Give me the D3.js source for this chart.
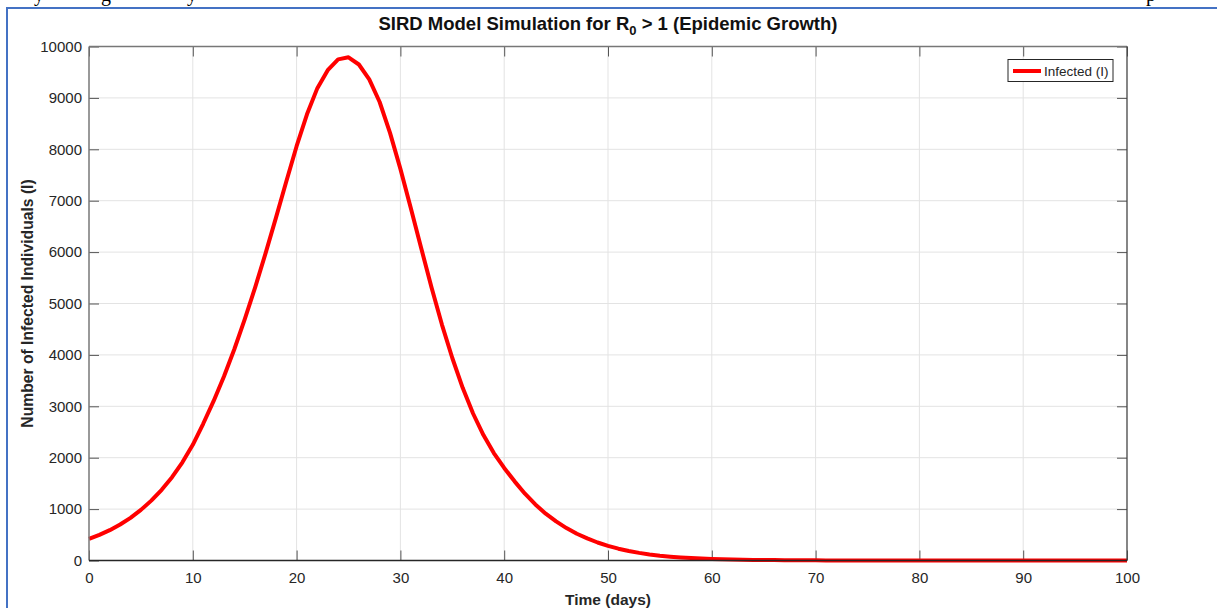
<!DOCTYPE html>
<html>
<head>
<meta charset="utf-8">
<script src="https://cdn.jsdelivr.net/npm/d3@7"></script>
<style>
  body { margin: 0; background: #fff; }
  svg { display: block; }
</style>
</head>
<body>
<svg width="1217" height="608"></svg>
<script>
// infected count per day
const days = d3.range(0, 101);
const infected = [
  420, 500, 590, 700, 830, 985, 1165, 1375, 1620, 1910,
  2250, 2660, 3100, 3580, 4110, 4690, 5310, 5970, 6660, 7370,
  8060, 8680, 9190, 9540, 9750, 9790, 9650, 9360, 8920, 8320,
  7620, 6860, 6080, 5310, 4590, 3940, 3360, 2860, 2440, 2090,
  1800, 1540, 1300, 1090, 910, 760, 630, 520, 430, 350,
  285, 230, 185, 148, 118, 94, 75, 60, 48, 38,
  30, 24, 19, 15, 12, 10, 8, 6, 5, 4,
  3, 2, 2, 2, 1, 1, 1, 1, 1, 0,
  0, 0, 0, 0, 0, 0, 0, 0, 0, 0,
  0, 0, 0, 0, 0, 0, 0, 0, 0, 0,
  0
];
const xTicks = [0, 10, 20, 30, 40, 50, 60, 70, 80, 90, 100];
const yTicks = [0, 1000, 2000, 3000, 4000, 5000, 6000, 7000, 8000, 9000, 10000];

const axisColor = "#262626";
const gridColor = "#e3e3e3";
const lineColor = "#ff0000";
const font = "'Liberation Sans', Arial, sans-serif";

const svg = d3.select("svg");
const plotLeft = 89, plotRight = 1127, plotTop = 46.5, plotBottom = 560.5;

const x = d3.scaleLinear().domain([0, 100]).range([plotLeft, plotRight]);
const y = d3.scaleLinear().domain([0, 10000]).range([plotBottom, plotTop]);

// page frame from the document screenshot
svg.append("line").attr("x1", 7).attr("x2", 1217).attr("y1", 8).attr("y2", 8)
    .attr("stroke", "#4472c4").attr("stroke-width", 2);
svg.append("line").attr("x1", 7).attr("x2", 7).attr("y1", 7).attr("y2", 608)
    .attr("stroke", "#4472c4").attr("stroke-width", 2);
// cut-off text line above the frame
const cut = svg.append("g").attr("font-family", "'Liberation Serif', serif")
    .attr("font-size", 20).attr("fill", "#000");
[[34, "y"], [101, "g"], [187, "y"], [1146, "p"]].forEach(d => {
    cut.append("text").attr("x", d[0]).attr("y", 1).text(d[1]);
});

// grid
svg.append("g").selectAll("line").data(xTicks.slice(1, -1)).join("line")
    .attr("x1", d => x(d)).attr("x2", d => x(d)).attr("y1", plotTop).attr("y2", plotBottom)
    .attr("stroke", gridColor).attr("stroke-width", 1);
svg.append("g").selectAll("line").data(yTicks.slice(1, -1)).join("line")
    .attr("y1", d => y(d)).attr("y2", d => y(d)).attr("x1", plotLeft).attr("x2", plotRight)
    .attr("stroke", gridColor).attr("stroke-width", 1);

// axes (ticks point inwards, mirrored on top/right)
function styleAxis(g, color) {
    g.select(".domain").remove();
    g.selectAll(".tick line").attr("stroke", color).attr("stroke-width", 1);
    g.selectAll(".tick text").attr("fill", axisColor).attr("font-family", font).attr("font-size", 15);
}
const xAxis = svg.append("g").attr("transform", `translate(0,${plotBottom})`)
    .call(d3.axisBottom(x).tickValues(xTicks).tickSizeInner(-10).tickSizeOuter(0).tickPadding(12));
styleAxis(xAxis, "#555");
const xAxisTop = svg.append("g").attr("transform", `translate(0,${plotTop})`)
    .call(d3.axisTop(x).tickValues(xTicks).tickSizeInner(-10).tickSizeOuter(0).tickFormat(""));
styleAxis(xAxisTop, "#555");
const yAxis = svg.append("g").attr("transform", `translate(${plotLeft},0)`)
    .call(d3.axisLeft(y).tickValues(yTicks).tickFormat(d3.format("d"))
        .tickSizeInner(-10).tickSizeOuter(0).tickPadding(7));
styleAxis(yAxis, "#555");
const yAxisRight = svg.append("g").attr("transform", `translate(${plotRight},0)`)
    .call(d3.axisRight(y).tickValues(yTicks).tickSizeInner(-10).tickSizeOuter(0).tickFormat(""));
styleAxis(yAxisRight, "#555");

// the curve
const line = d3.line().x((d, i) => x(days[i])).y(d => y(d));
svg.append("path").datum(infected)
    .attr("d", line)
    .attr("fill", "none")
    .attr("stroke", lineColor)
    .attr("stroke-width", 4)
    .attr("stroke-linejoin", "round");

// box
svg.append("line").attr("x1", plotLeft).attr("x2", plotRight).attr("y1", plotTop).attr("y2", plotTop)
    .attr("stroke", "#777").attr("stroke-width", 1.3);
svg.append("line").attr("x1", plotRight).attr("x2", plotRight).attr("y1", plotTop).attr("y2", plotBottom)
    .attr("stroke", "#444").attr("stroke-width", 1.3);
svg.append("line").attr("x1", plotLeft).attr("x2", plotLeft).attr("y1", plotTop).attr("y2", plotBottom)
    .attr("stroke", "#777").attr("stroke-width", 1.5);
svg.append("line").attr("x1", plotLeft).attr("x2", plotRight).attr("y1", plotBottom).attr("y2", plotBottom)
    .attr("stroke", axisColor).attr("stroke-width", 1.5);

// title with subscript
const title = svg.append("text")
    .attr("x", (plotLeft + plotRight) / 2).attr("y", 30)
    .attr("text-anchor", "middle")
    .attr("font-family", font).attr("font-size", 18.5).attr("font-weight", "bold")
    .attr("fill", "#111");
title.append("tspan").text("SIRD Model Simulation for R");
title.append("tspan").attr("dy", 5).attr("font-size", 13).text("0");
title.append("tspan").attr("dy", -5).text(" > 1 (Epidemic Growth)");

// axis labels
svg.append("text")
    .attr("x", (plotLeft + plotRight) / 2).attr("y", 605)
    .attr("text-anchor", "middle")
    .attr("font-family", font).attr("font-size", 15.5).attr("font-weight", "bold")
    .attr("fill", axisColor)
    .text("Time (days)");
svg.append("text")
    .attr("transform", `translate(32.5,${(plotTop + plotBottom) / 2}) rotate(-90)`)
    .attr("text-anchor", "middle")
    .attr("font-family", font).attr("font-size", 15.7).attr("font-weight", "bold")
    .attr("fill", axisColor)
    .text("Number of Infected Individuals (I)");

// legend
const legend = svg.append("g").attr("transform", "translate(1008,59.5)");
legend.append("rect").attr("width", 105).attr("height", 22)
    .attr("fill", "#fff").attr("stroke", axisColor).attr("stroke-width", 1);
legend.append("line").attr("x1", 5).attr("x2", 33).attr("y1", 11.5).attr("y2", 11.5)
    .attr("stroke", lineColor).attr("stroke-width", 4);
legend.append("text").attr("x", 36).attr("y", 16)
    .attr("font-family", font).attr("font-size", 13.5).attr("fill", axisColor)
    .text("Infected (I)");
</script>
</body>
</html>
